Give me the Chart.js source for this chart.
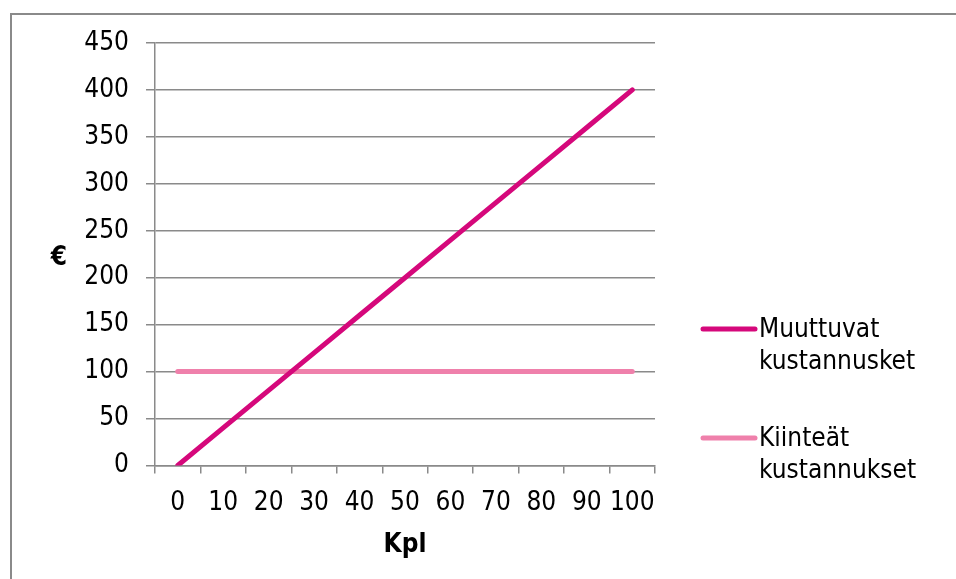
<!DOCTYPE html>
<html lang="fi">

<head>
    <meta charset="UTF-8">
    <title>Kustannukset</title>
    <script src="https://cdn.jsdelivr.net/npm/chart.js"></script>
    <style>
        body { margin: 0; background: #fff; }
        .chart_box { width: 956px; height: 579px; position: relative; }
    </style>
</head>

<body>
    <div class="chart_box">
        <canvas id="kustannusChart"></canvas>
    </div>

<script>
    // data luettu kuvasta
    const kappaleet = ['0', '10', '20', '30', '40', '50', '60', '70', '80', '90', '100'];
    const muuttuvat = [0, 40, 80, 120, 160, 200, 240, 280, 320, 360, 400];
    const kiinteat = [100, 100, 100, 100, 100, 100, 100, 100, 100, 100, 100];
    const sarjaNimet = [['Muuttuvat', 'kustannusket'], ['Kiinteät', 'kustannukset']];
    const yTicks = [0, 50, 100, 150, 200, 250, 300, 350, 400, 450];

    const fontti = "'DejaVu Sans Condensed', 'DejaVu Sans', sans-serif";
    const harmaa = '#8a8a8a';

    // reunus, €-otsikko ja oma legenda
    const omaPiirto = {
        id: 'omaPiirto',
        beforeDraw(chart) {
            const ctx = chart.ctx;
            ctx.save();
            ctx.strokeStyle = harmaa;
            ctx.lineWidth = 2;
            ctx.strokeRect(11, 14, 1000, 700);
            ctx.restore();
        },
        afterDraw(chart) {
            const ctx = chart.ctx;
            ctx.save();
            ctx.fillStyle = '#000';
            ctx.font = 'bold 26px ' + fontti;
            ctx.textAlign = 'center';
            ctx.textBaseline = 'middle';
            ctx.fillText('€', 59, 258);

            const rivit = [329, 438];
            chart.data.datasets.forEach(function (ds, i) {
                const y = rivit[i];
                ctx.strokeStyle = ds.borderColor;
                ctx.lineWidth = 5;
                ctx.lineCap = 'round';
                ctx.beginPath();
                ctx.moveTo(703, y);
                ctx.lineTo(755, y);
                ctx.stroke();
                ctx.fillStyle = '#000';
                ctx.font = '26px ' + fontti;
                ctx.textAlign = 'left';
                ctx.textBaseline = 'middle';
                sarjaNimet[i].forEach(function (t, j) {
                    ctx.fillText(t, 759, y + 1 + j * 32);
                });
            });
            ctx.restore();
        }
    };

    new Chart(document.getElementById('kustannusChart'), {
        type: 'line',
        data: {
            labels: kappaleet,
            datasets: [{
                label: sarjaNimet[0].join(' '),
                data: muuttuvat,
                borderColor: '#d5087b',
                borderWidth: 5,
                borderCapStyle: 'round',
                pointRadius: 0,
                tension: 0
            },
            {
                label: sarjaNimet[1].join(' '),
                data: kiinteat,
                borderColor: '#ef80ab',
                borderWidth: 5,
                borderCapStyle: 'round',
                pointRadius: 0,
                tension: 0
            }]
        },
        options: {
            responsive: true,
            maintainAspectRatio: false,
            animation: false,
            layout: { padding: { left: 0, top: 43, right: 301, bottom: 0 } },
            plugins: {
                legend: { display: false },
                tooltip: { enabled: false }
            },
            scales: {
                x: {
                    offset: true,
                    grid: {
                        offset: true,
                        drawOnChartArea: false,
                        color: harmaa,
                        lineWidth: 1.5,
                        tickLength: 8
                    },
                    border: { color: harmaa, width: 1.5 },
                    ticks: {
                        color: '#000',
                        font: { family: fontti, size: 26 },
                        padding: 14,
                        maxRotation: 0,
                        autoSkip: false
                    },
                    title: {
                        display: true,
                        text: 'Kpl',
                        color: '#000',
                        font: { family: fontti, size: 26, weight: 'bold' },
                        padding: { top: 0, bottom: 18 }
                    },
                    afterFit(scale) { scale.height = 113.5; }
                },
                y: {
                    min: 0,
                    max: 450,
                    afterBuildTicks(scale) { scale.ticks = yTicks.map(v => ({ value: v })); },
                    grid: {
                        color: harmaa,
                        lineWidth: 1.5,
                        tickLength: 9
                    },
                    border: { color: harmaa, width: 1.5 },
                    ticks: {
                        color: '#000',
                        font: { family: fontti, size: 26 },
                        padding: 17
                    },
                    afterFit(scale) { scale.width = 155; }
                }
            }
        },
        plugins: [omaPiirto]
    });
</script>
</body>

</html>
